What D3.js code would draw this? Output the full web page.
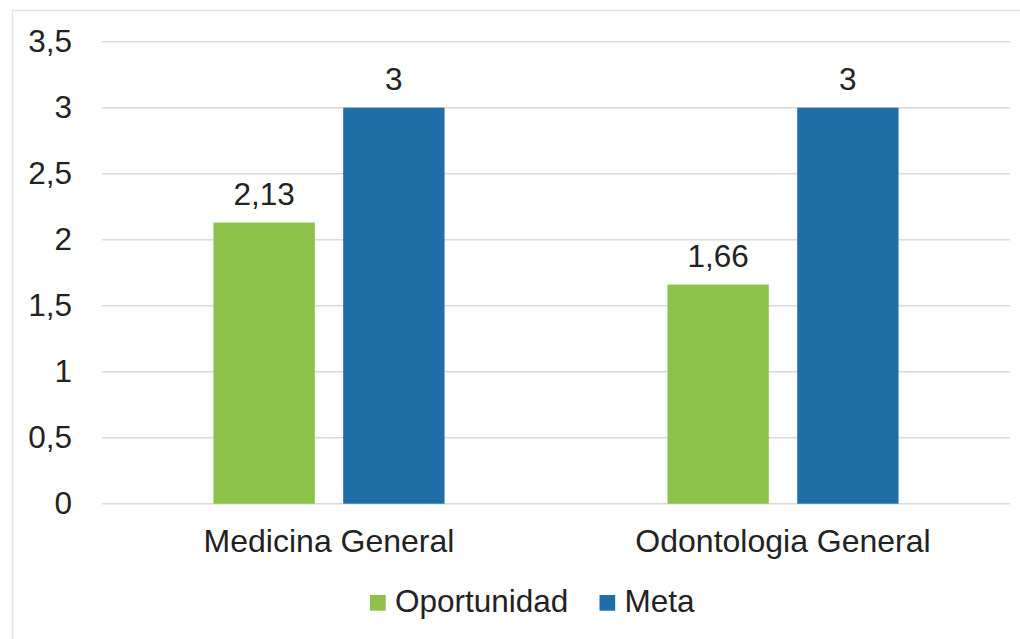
<!DOCTYPE html>
<html>
<head>
<meta charset="utf-8">
<script src="https://cdn.jsdelivr.net/npm/d3@7"></script>
<style>
  body { margin: 0; background: #fff; }
  text { font-family: "Liberation Sans", Arial, sans-serif; fill: #222; }
</style>
</head>
<body>
<div id="chart-area"></div>
<script>
// Data
const categories = ["Medicina General", "Odontologia General"]
const seriesNames = ["Oportunidad", "Meta"]
const oportunidad = [2.13, 1.66]
const meta = [3, 3]
const yTicks = [0, 0.5, 1, 1.5, 2, 2.5, 3, 3.5]
const colors = ["#8cc14a", "#1f6ea8"]

const W = 1020, H = 639
const margin = {left: 102, right: 10, top: 41.7, bottom: 135.3}
const width = W - margin.left - margin.right
const height = H - margin.top - margin.bottom

const svg = d3.select("#chart-area").append("svg")
    .attr("width", W)
    .attr("height", H)

// outer frame (clipped by the picture on the right and bottom)
svg.append("rect")
    .attr("x", 12.5).attr("y", 10.5)
    .attr("width", W).attr("height", H)
    .attr("fill", "none")
    .attr("stroke", "#e3e3e3")
    .attr("stroke-width", 1.5)

const g = svg.append("g")
    .attr("transform", `translate(${margin.left}, ${margin.top})`)

// Scales
const y = d3.scaleLinear().domain([0, 3.5]).range([height, 0])
const x0 = d3.scaleBand().domain(categories).range([0, width])
    .paddingInner(0.491).paddingOuter(0.2455)
const x1 = d3.scaleBand().domain(seriesNames).range([0, x0.bandwidth()])
    .paddingInner(0.219).paddingOuter(0)

const fmt = d => String(d).replace(".", ",")

// Gridlines
g.selectAll(".grid").data(yTicks).enter().append("line")
    .attr("class", "grid")
    .attr("x1", 0).attr("x2", width)
    .attr("y1", d => y(d)).attr("y2", d => y(d))
    .attr("stroke", "#d9d9d9")
    .attr("stroke-width", 1.5)

// Y axis labels
const yAxis = g.append("g")
    .call(d3.axisLeft(y).tickValues(yTicks).tickFormat(fmt).tickSize(0).tickPadding(30))
yAxis.select(".domain").remove()
yAxis.selectAll("text")
    .attr("font-size", "31.5px")
    .attr("font-family", "Liberation Sans, Arial, sans-serif")
    .attr("fill", "#222")

// X axis labels
const xAxis = g.append("g")
    .attr("transform", `translate(0, ${height})`)
    .call(d3.axisBottom(x0).tickSize(0).tickPadding(26))
xAxis.select(".domain").remove()
xAxis.selectAll("text")
    .attr("font-size", "32px")
    .attr("font-family", "Liberation Sans, Arial, sans-serif")
    .attr("fill", "#222")

// Bars
const rows = categories.map((c, i) => ({
    cat: c,
    vals: [{s: seriesNames[0], v: oportunidad[i]}, {s: seriesNames[1], v: meta[i]}]
}))

const groups = g.selectAll(".cat").data(rows).enter().append("g")
    .attr("class", "cat")
    .attr("transform", d => `translate(${x0(d.cat)}, 0)`)

groups.selectAll("rect").data(d => d.vals).enter().append("rect")
    .attr("x", d => x1(d.s))
    .attr("y", d => y(d.v))
    .attr("width", x1.bandwidth())
    .attr("height", d => y(0) - y(d.v))
    .attr("fill", (d, i) => colors[i])

groups.selectAll(".lbl").data(d => d.vals).enter().append("text")
    .attr("class", "lbl")
    .attr("x", d => x1(d.s) + x1.bandwidth() / 2)
    .attr("y", d => y(d.v) - 17.5)
    .attr("text-anchor", "middle")
    .attr("font-size", "31.5px")
    .text(d => fmt(d.v))

// Legend
const legendX = [370, 599.5]
const legend = svg.selectAll(".legend").data(seriesNames).enter().append("g")
    .attr("class", "legend")
    .attr("transform", (d, i) => `translate(${legendX[i]}, 595)`)
legend.append("rect")
    .attr("width", 15.7).attr("height", 15.7)
    .attr("fill", (d, i) => colors[i])
legend.append("text")
    .attr("x", 25)
    .attr("y", 16.5)
    .attr("font-size", "31.5px")
    .text(d => d)
</script>
</body>
</html>
